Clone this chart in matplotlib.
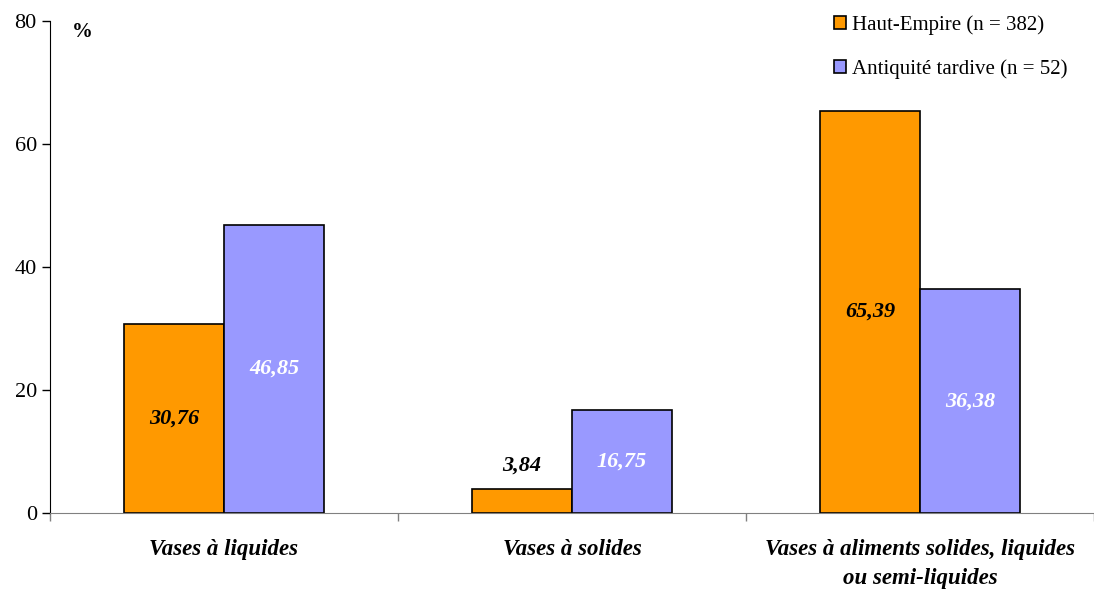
import numpy as np
import matplotlib.pyplot as plt

plt.rcParams['font.family'] = ['Liberation Serif', 'DejaVu Serif']

categories = ['Vases à liquides', 'Vases à solides',
              'Vases à aliments solides, liquides\nou semi-liquides']
haut_empire = [30.76, 3.84, 65.39]
antiquite = [46.85, 16.75, 36.38]
labels_he = ['30,76', '3,84', '65,39']
labels_at = ['46,85', '16,75', '36,38']

fig = plt.figure(figsize=(10.94, 5.9), dpi=100)
ax = fig.add_axes([0.0457, 0.1305, 0.9543, 0.834])

x = np.arange(len(categories))
w = 0.287
b1 = ax.bar(x - w / 2, haut_empire, w, color='#FF9900', edgecolor='black', linewidth=1.2,
            label='Haut-Empire (n = 382)')
b2 = ax.bar(x + w / 2, antiquite, w, color='#9999FF', edgecolor='black', linewidth=1.2,
            label='Antiquité tardive (n = 52)')

for xi, v, s in zip(x - w / 2, haut_empire, labels_he):
    y = v / 2 if v > 10 else v + 3.8
    ax.text(xi, y, s, ha='center', va='center', fontsize=16, fontweight='bold',
            fontstyle='italic', color='black')
for xi, v, s in zip(x + w / 2, antiquite, labels_at):
    ax.text(xi, v / 2, s, ha='center', va='center', fontsize=16, fontweight='bold',
            fontstyle='italic', color='white')

ax.set_xlim(-0.5, 2.5)
ax.set_ylim(0, 80)
ax.set_yticks([0, 20, 40, 60, 80])
ax.tick_params(axis='y', labelsize=16, length=6, direction='out', width=1)
ax.set_xticks([-0.5, 0.5, 1.5, 2.5])
ax.set_xticklabels([])
ax.tick_params(axis='x', length=6, direction='out', color='#808080', width=1)
for xi, c in zip(x, categories):
    ax.text(xi, -4.2, c, ha='center', va='top', fontsize=16.5, fontweight='bold',
            fontstyle='italic', transform=ax.transData, linespacing=1.5)

ax.spines['top'].set_visible(False)
ax.spines['right'].set_visible(False)
ax.spines['bottom'].set_color('#808080')
ax.spines['left'].set_color('black')

ax.text(0.031, 0.998, '%', transform=ax.transAxes, fontsize=15, fontweight='bold',
        va='top', ha='center')

ax.legend(loc='upper right', bbox_to_anchor=(0.993, 1.05), frameon=False, fontsize=15,
          handlelength=0.6, handleheight=0.6, handletextpad=0.3, labelspacing=1.15)

fig.savefig('out.png', dpi=100)
